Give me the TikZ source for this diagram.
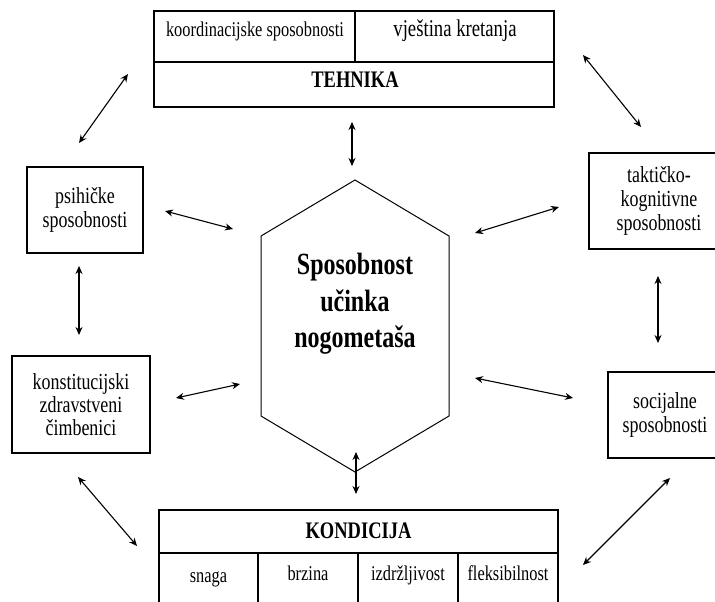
\documentclass[tikz,border=0pt]{standalone}
\usepackage{fontspec}
\setmainfont{Liberation Serif}[FakeStretch=0.78]
\usetikzlibrary{arrows.meta}
\begin{document}
\begin{tikzpicture}[x=1pt,y=-1pt,
  frame/.style={line width=1.2pt},
  sidebox/.style={draw,line width=1.2pt,align=center,inner sep=0pt,font=\fontsize{23}{24}\selectfont},
  celltext/.style={anchor=base,inner sep=0pt,font=\fontsize{21}{22}\selectfont},
  bigcell/.style={anchor=base,inner sep=0pt,font=\fontsize{24}{25}\selectfont},
  headtext/.style={anchor=base,inner sep=0pt,font=\fontsize{23.7}{25}\selectfont\bfseries},
  hextext/.style={align=center,inner sep=0pt,font=\fontsize{30.8}{36.5}\selectfont\bfseries},
  dbl/.style={{Stealth[length=8pt,width=7pt]}-{Stealth[length=8pt,width=7pt]},line width=1.1pt}
]
\useasboundingbox (0,0) rectangle (715,602);
\clip (0,0) rectangle (715,602);

% TEHNIKA table
\draw[frame] (154,11) rectangle (554,107);
\draw[frame] (154,62) -- (554,62);
\draw[frame] (355,11) -- (355,62);
\node[celltext] (koord) at (255,37) {koordinacijske sposobnosti};
\node[bigcell] (vjes) at (455,37) {vještina kretanja};
\node[headtext] (teh) at (355,88) {TEHNIKA};

% KONDICIJA table
\draw[frame] (159,510) rectangle (558,620);
\draw[frame] (159,553) -- (558,553);
\draw[frame] (258,553) -- (258,620);
\draw[frame] (358,553) -- (358,620);
\draw[frame] (458,553) -- (458,620);
\node[headtext] (kond) at (358.5,538) {KONDICIJA};
\node[celltext] (snaga) at (208.5,582) {snaga};
\node[celltext] (brzina) at (308,580) {brzina};
\node[celltext] (izdr) at (408,580) {izdržljivost};
\node[celltext] (fleks) at (508,580) {fleksibilnost};

% hexagon
\draw[line width=1pt] (355,180) -- (449,236) -- (449,416) -- (355,472) -- (261,416) -- (261,236) -- cycle;
\node[hextext] (hex) at (355,304) {Sposobnost\\učinka\\nogometaša};

% side boxes
\node[sidebox,minimum width=116pt,minimum height=86pt] (psi) at (85,210) {psihičke\\sposobnosti};
\node[sidebox,minimum width=138pt,minimum height=97pt,font=\fontsize{23}{23}\selectfont] (kons) at (81,404.5) {konstitucijski\\zdravstveni\\čimbenici};
\node[sidebox,minimum width=140pt,minimum height=96pt] (takt) at (659,201) {taktičko-\\kognitivne\\sposobnosti};
\node[sidebox,minimum width=114pt,minimum height=86pt] (soc) at (665,415) {socijalne\\sposobnosti};

% arrow end points
\coordinate (a1a) at (128,74);  \coordinate (a1b) at (79,143);
\coordinate (a2a) at (583,55);  \coordinate (a2b) at (641,127);
\coordinate (a3a) at (352,122); \coordinate (a3b) at (352,166);
\coordinate (a4a) at (165,211); \coordinate (a4b) at (233,229);
\coordinate (a5a) at (79,266);  \coordinate (a5b) at (79,335);
\coordinate (a6a) at (176,398); \coordinate (a6b) at (240,384);
\coordinate (a7a) at (78,477);  \coordinate (a7b) at (137,546);
\coordinate (a8a) at (356,452); \coordinate (a8b) at (356,494);
\coordinate (a9a) at (670,478); \coordinate (a9b) at (583,565);
\coordinate (a10a) at (475,378); \coordinate (a10b) at (573,398);
\coordinate (a11a) at (475,233); \coordinate (a11b) at (559,207);
\coordinate (a12a) at (658,276); \coordinate (a12b) at (658,343);

\draw[dbl] (a1a) -- (a1b);
\draw[dbl] (a2a) -- (a2b);
\draw[dbl] (a3a) -- (a3b);
\draw[dbl] (a4a) -- (a4b);
\draw[dbl] (a5a) -- (a5b);
\draw[dbl] (a6a) -- (a6b);
\draw[dbl] (a7a) -- (a7b);
\draw[dbl] (a8a) -- (a8b);
\draw[dbl] (a9a) -- (a9b);
\draw[dbl] (a10a) -- (a10b);
\draw[dbl] (a11a) -- (a11b);
\draw[dbl] (a12a) -- (a12b);
\end{tikzpicture}
\end{document}
